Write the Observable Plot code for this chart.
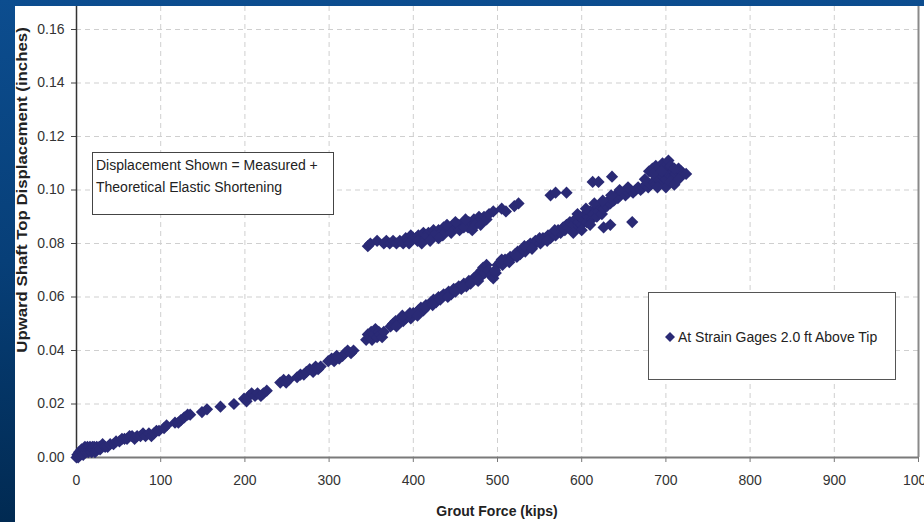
<!DOCTYPE html>
<html>
<head>
<meta charset="utf-8">
<script src="https://cdn.jsdelivr.net/npm/d3@7"></script>
<script src="https://cdn.jsdelivr.net/npm/@observablehq/plot@0.6"></script>
<style>
  html, body { margin: 0; padding: 0; width: 924px; height: 522px; overflow: hidden; }
  body { background: linear-gradient(to bottom, #0c4d8f 0%, #073f78 50%, #012a52 100%); position: relative;
         font-family: "Liberation Sans", Arial, sans-serif; }
  #panel { position: absolute; left: 15px; top: 6px; width: 909px; height: 516px; background: #fff; overflow: hidden; }
  #chart { position: absolute; left: 0; top: 0; }
  .ylab { position: absolute; left: 7px; top: 184px; transform: translate(-50%, -50%) rotate(-90deg) scaleX(1.2);
          font-weight: bold; font-size: 14px; color: #222; white-space: nowrap; }
  .xlab { position: absolute; left: 482px; top: 497px; transform: translateX(-50%); font-weight: bold; font-size: 14px; color: #222; white-space: nowrap; }
  .note { position: absolute; left: 77px; top: 146px; width: 242px; height: 63px; border: 1px solid #444; background: #fff;
          font-size: 14px; color: #222; line-height: 22px; box-sizing: border-box; padding: 1px 0 0 3px; }
  .legend { position: absolute; left: 633px; top: 286px; width: 248px; height: 88px; border: 1px solid #555; background: #fff;
            font-size: 14px; color: #222; box-sizing: border-box; }
  .legend .item { position: absolute; left: 15px; top: 36px; white-space: nowrap; display: flex; align-items: center; }
  .legend svg { margin-right: 2px; }
</style>
</head>
<body>
<div id="panel">
  <div id="chart"></div>
  <div class="ylab">Upward Shaft Top Displacement (inches)</div>
  <div class="xlab">Grout Force (kips)</div>
  <div class="note">Displacement Shown = Measured +<br>Theoretical Elastic Shortening</div>
  <div class="legend"><div class="item"><svg width="12" height="12"><polygon points="6,1 11,6 6,11 1,6" fill="#2a2a75"/></svg>At Strain Gages 2.0 ft Above Tip</div></div>
</div>
<script>
// ---- tick values ----
const xTicks = [0, 100, 200, 300, 400, 500, 600, 700, 800, 900, 1000];
const yTicks = [0, 0.02, 0.04, 0.06, 0.08, 0.10, 0.12, 0.14, 0.16];

// ---- loading branch: grout force (kips) ----
const mainForce = [
  0,1,2,3,4,5,6,7,8,9,10,11,12,13,14,15,16,17,18,19,20,21,22,23,24,25,27,28,
  31,34,37,40,44,47,51,54,57,60,63,66,69,72,76,79,82,86,89,92,95,98,104,107,117,121,124,128,132,135,
  149,155,171,187,199,202,205,208,212,215,219,222,226,242,246,249,252,262,266,270,273,277,281,284,287,290,
  299,303,306,309,312,316,319,322,326,329,
  344,346,348,350,351,353,355,357,359,361,363,365,
  373,376,379,382,385,388,391,394,397,400,403,406,409,412,415,418,421,424,427,430,433,436,439,442,445,448,
  451,454,457,460,463,466,469,472,475,478,481,483,485,487,489,492,495,498,500,503,506,509,512,515,518,521,
  524,527,530,533,536,539,542,545,548,551,554,557,560,563,566,569,572,575,578,
  380,387,396,405,414,423,432,441,450,459,468,477,497,505,514,523,532,541,550,559,568,577,
  580,582,584,586,588,590,592,594,596,598,600,602,604,606,608,610,612,614,616,618,620,622,624,626,628,630,
  632,634,636,638,640,643,646,649,652,655,658,661,664,667,670,673,676,679,682,685,688,691,694,697,700,703,
  706,709,712,715,718,721,724,
  680,684,688,692,696,700,703,706,700,705,710,
  595,605,615,625,635,600,610,590,645,655,
  675,685,695,710,715,690,
  626,634,660
];
// ---- loading branch: displacement (inches) ----
const mainDisp = [
  0.000,0.001,0.000,0.002,0.001,0.002,0.003,0.002,0.001,0.003,0.004,0.002,0.003,0.004,0.002,0.003,0.004,0.003,0.002,0.004,0.003,0.004,0.002,0.003,0.004,0.003,0.004,0.003,
  0.005,0.004,0.004,0.005,0.005,0.006,0.006,0.007,0.007,0.007,0.008,0.008,0.007,0.008,0.008,0.009,0.008,0.009,0.008,0.009,0.010,0.010,0.011,0.012,0.013,0.013,0.014,0.015,0.016,0.016,
  0.017,0.018,0.019,0.020,0.022,0.021,0.023,0.024,0.023,0.024,0.023,0.024,0.025,0.028,0.029,0.028,0.029,0.030,0.031,0.031,0.032,0.033,0.032,0.034,0.033,0.034,
  0.036,0.037,0.036,0.038,0.037,0.038,0.039,0.040,0.039,0.040,
  0.044,0.046,0.045,0.047,0.044,0.046,0.048,0.045,0.047,0.046,0.045,0.047,
  0.049,0.050,0.051,0.050,0.052,0.051,0.052,0.053,0.052,0.054,0.054,0.055,0.056,0.055,0.057,0.057,0.058,0.059,0.058,0.060,0.060,0.061,0.061,0.062,0.061,0.063,
  0.063,0.064,0.063,0.065,0.064,0.066,0.066,0.067,0.068,0.067,0.070,0.071,0.069,0.072,0.070,0.068,0.067,0.069,0.072,0.073,0.072,0.074,0.074,0.075,0.075,0.076,
  0.077,0.076,0.078,0.077,0.079,0.080,0.079,0.081,0.081,0.080,0.082,0.082,0.083,0.082,0.084,0.083,0.085,0.084,0.086,
  0.049,0.053,0.054,0.053,0.056,0.057,0.059,0.060,0.062,0.064,0.065,0.066,0.070,0.074,0.073,0.075,0.079,0.078,0.082,0.081,0.085,0.085,
  0.085,0.087,0.086,0.088,0.085,0.087,0.089,0.086,0.088,0.090,0.087,0.089,0.091,0.088,0.090,0.092,0.089,0.091,0.093,0.090,0.092,0.094,0.091,0.093,0.095,0.094,
  0.096,0.095,0.097,0.096,0.098,0.097,0.098,0.099,0.098,0.099,0.100,0.099,0.100,0.101,0.100,0.101,0.102,0.101,0.102,0.103,0.102,0.104,0.103,0.105,0.104,0.106,
  0.105,0.107,0.106,0.108,0.107,0.106,0.106,
  0.107,0.108,0.109,0.108,0.110,0.109,0.111,0.109,0.101,0.103,0.102,
  0.091,0.093,0.095,0.096,0.098,0.085,0.087,0.084,0.100,0.101,
  0.104,0.106,0.107,0.108,0.104,0.101,
  0.086,0.087,0.088
];

// ---- upper (unloading) branch ----
const upperForce = [
  346,349,357,365,368,372,376,380,384,388,391,394,397,400,403,406,409,412,415,418,421,424,427,430,433,436,
  439,442,445,448,451,454,457,460,463,466,469,472,475,478,481,484,487,490,495,505,510,520,525,
  563,569,582,613,620,636,
  405,415,425,435,445,455,465,440,450,460,470,430,420,410,395,462,474,480
];
const upperDisp = [
  0.079,0.080,0.081,0.080,0.081,0.080,0.081,0.080,0.081,0.080,0.082,0.081,0.083,0.082,0.082,0.083,0.082,0.084,0.083,0.084,0.083,0.085,0.084,0.085,0.084,0.086,
  0.085,0.086,0.085,0.087,0.086,0.087,0.086,0.088,0.087,0.088,0.087,0.089,0.088,0.090,0.089,0.090,0.089,0.091,0.092,0.093,0.092,0.094,0.095,
  0.098,0.099,0.099,0.103,0.103,0.105,
  0.081,0.082,0.083,0.083,0.084,0.085,0.086,0.087,0.088,0.086,0.085,0.082,0.081,0.080,0.080,0.089,0.087,0.087
];

const points = [
  ...mainForce.map((f, i) => ({force: f, disp: mainDisp[i]})),
  ...upperForce.map((f, i) => ({force: f, disp: upperDisp[i]}))
];

const chart = Plot.plot({
  width: 909,
  height: 516,
  marginLeft: 61,
  marginRight: 6,
  marginTop: 0,
  marginBottom: 65,
  style: {fontFamily: '"Liberation Sans", Arial, sans-serif', fontSize: "14px", color: "#333", background: "transparent", overflow: "visible"},
  x: {domain: [0, 1000]},
  y: {domain: [0, 0.1686]},
  marks: [
    Plot.gridX(xTicks.filter(d => d > 0 && d < 1000), {stroke: "#cfcfcf", strokeOpacity: 1, strokeDasharray: "5,4"}),
    Plot.gridY(yTicks.filter(d => d > 0), {stroke: "#cfcfcf", strokeOpacity: 1, strokeDasharray: "5,4"}),
    Plot.ruleX([1000], {stroke: "#8a8a8a", strokeWidth: 2}),
    Plot.axisX({ticks: xTicks, tickFormat: d => String(d), tickSize: 5, tickPadding: 13, label: null, stroke: "#777", fill: "#333"}),
    Plot.axisY({ticks: yTicks, tickFormat: d3.format(".2f"), tickSize: 5, tickPadding: 7, label: null, stroke: "#444", fill: "#333"}),
    Plot.ruleY([0], {stroke: "#7a7a7a", strokeWidth: 2}),
    Plot.ruleX([0], {stroke: "#333", strokeWidth: 1.5}),
    Plot.dot(points, {x: "force", y: "disp", symbol: "diamond2", r: 5.5, fill: "#2a2a75", stroke: "none"})
  ]
});
document.getElementById("chart").appendChild(chart);
</script>
</body>
</html>
